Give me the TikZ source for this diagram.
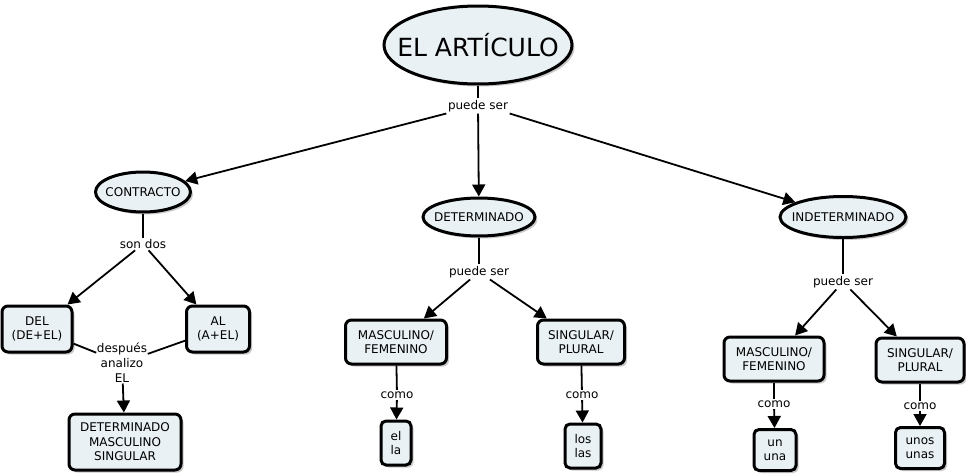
\documentclass[tikz,border=0pt]{standalone}
\usepackage{fontspec}
\setmainfont{DejaVu Sans}
\usetikzlibrary{shapes.geometric,arrows.meta,shadows}
\definecolor{nodefill}{HTML}{E9F1F4}
\newcommand{\ovt}[1]{\makebox[0pt]{#1}}
\tikzset{
  base/.style={draw=black, line width=3pt, fill=nodefill, font=\fontsize{12}{14.5}\selectfont, align=center, inner sep=1pt,
    drop shadow={shadow xshift=2.5pt, shadow yshift=-2.5pt, fill=black!35, opacity=0.6}},
  oval/.style={base, ellipse, inner sep=0pt},
  box/.style={base, rounded corners=6pt},
  lbl/.style={font=\fontsize{12}{15}\selectfont, align=center, inner sep=1.5pt, fill=white},
  link/.style={line width=1.8pt},
  arr/.style={line width=1.8pt, -{Triangle[length=12pt,width=13pt]}}
}
\begin{document}
\begin{tikzpicture}[x=1pt,y=-1pt]
\useasboundingbox (0,0) rectangle (966,474);
% top
\node[oval, minimum width=188pt, minimum height=78pt, font=\fontsize{25}{29}\selectfont] (root) at (478,45) {\ovt{EL ARTÍCULO}};
\node[lbl] (l0) at (478,106) {puede ser};
% level 1
\node[oval, minimum width=95pt, minimum height=40pt] (contr) at (143,192) {\ovt{CONTRACTO}};
\node[oval, minimum width=112pt, minimum height=38pt] (det) at (479,217) {\ovt{DETERMINADO}};
\node[oval, minimum width=126pt, minimum height=41pt] (indet) at (843,217) {\ovt{INDETERMINADO}};
% contracto branch
\node[lbl] (l1) at (143,244) {son dos};
\node[box, minimum width=70pt, minimum height=46pt] (del) at (37,329) {DEL\\(DE+EL)};
\node[box, minimum width=63pt, minimum height=46pt] (al) at (218,329) {AL\\(A+EL)};
\node[lbl, inner sep=0.5pt] (l2) at (122,363) {después\\analizo\\EL};
\node[box, minimum width=112pt, minimum height=56pt] (dms) at (125,442) {DETERMINADO\\MASCULINO\\SINGULAR};
% determinado branch
\node[lbl] (l3) at (479,272) {puede ser};
\node[box, minimum width=101pt, minimum height=44pt] (mf1) at (396,342) {MASCULINO/\\FEMENINO};
\node[box, minimum width=87pt, minimum height=44pt] (sp1) at (581,342) {SINGULAR/\\PLURAL};
\node[lbl] (l4) at (397,395) {como};
\node[lbl] (l5) at (582,395) {como};
\node[box, minimum width=30pt, minimum height=44pt, rounded corners=5pt] (ella) at (396,443) {el\\la};
\node[box, minimum width=36pt, minimum height=44pt, rounded corners=5pt] (loslas) at (583,446) {los\\las};
% indeterminado branch
\node[lbl] (l6) at (843,282) {puede ser};
\node[box, minimum width=100pt, minimum height=44pt] (mf2) at (774,359) {MASCULINO/\\FEMENINO};
\node[box, minimum width=88pt, minimum height=44pt] (sp2) at (920,360) {SINGULAR/\\PLURAL};
\node[lbl] (l7) at (774,404) {como};
\node[lbl] (l8) at (920,406) {como};
\node[box, minimum width=42pt, minimum height=41pt, rounded corners=5pt] (ununa) at (775,450) {un\\una};
\node[box, minimum width=49pt, minimum height=41pt, rounded corners=5pt] (unos) at (920,448) {unos\\unas};
% connectors
\draw[link] (root) -- (l0);
\draw[arr] (l0.south west) -- (contr);
\draw[arr] (l0) -- (det);
\draw[arr] (l0.south east) -- (indet);
\draw[link] (contr) -- (l1);
\draw[arr] (l1) -- (del);
\draw[arr] (l1) -- (al);
\draw[link] (del) -- (l2);
\draw[link] (al) -- (l2);
\draw[arr] (l2) -- (dms);
\draw[link] (det) -- (l3);
\draw[arr] (l3) -- (mf1);
\draw[arr] (l3) -- (sp1);
\draw[link] (mf1) -- (l4);
\draw[arr] (l4) -- (ella);
\draw[link] (sp1) -- (l5);
\draw[arr] (l5) -- (loslas);
\draw[link] (indet) -- (l6);
\draw[arr] (l6) -- (mf2);
\draw[arr] (l6) -- (sp2);
\draw[link] (mf2) -- (l7);
\draw[arr] (l7) -- (ununa);
\draw[link] (sp2) -- (l8);
\draw[arr] (l8) -- (unos);
\end{tikzpicture}
\end{document}
